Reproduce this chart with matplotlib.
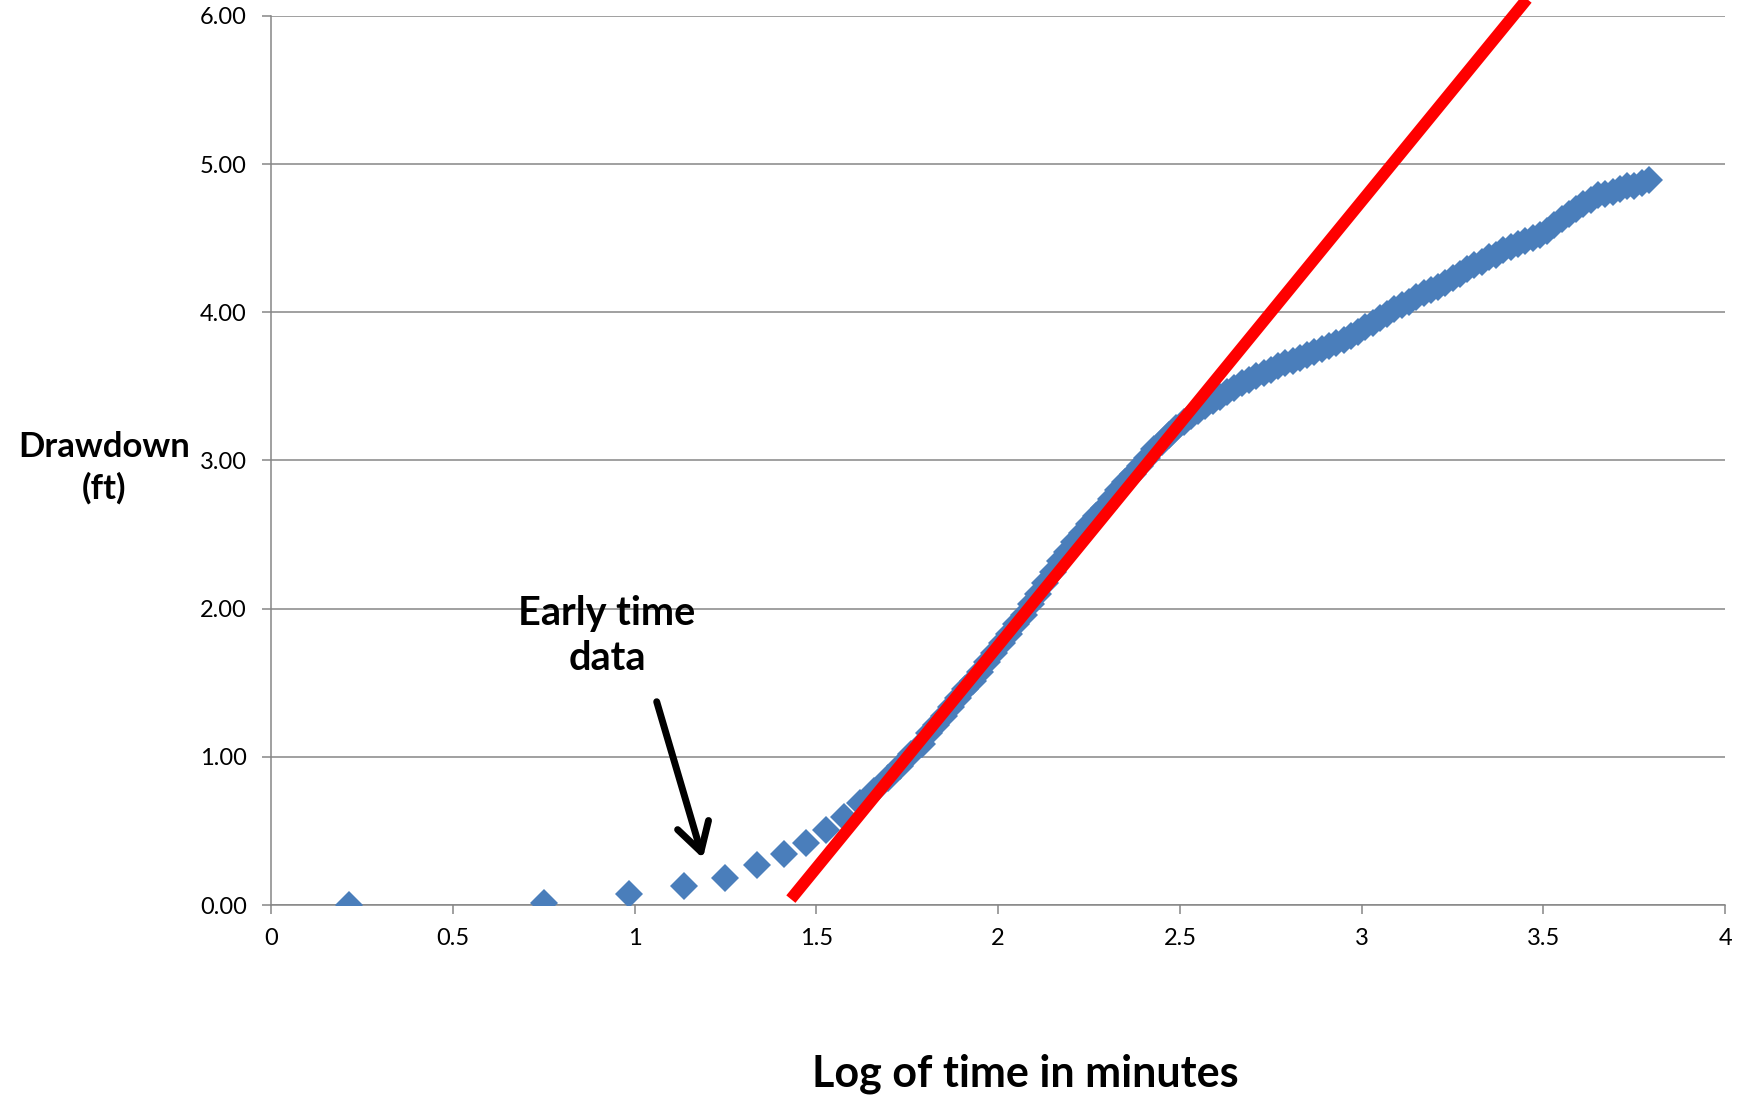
import matplotlib
matplotlib.use("Agg")
import matplotlib.pyplot as plt

plt.rcParams["font.family"] = ["Lato", "DejaVu Sans"]

# early, well separated readings (log of time, drawdown ft)
early_x = [0.215, 0.752, 0.985, 1.137, 1.248, 1.337, 1.410, 1.472, 1.527,
           1.576, 1.619, 1.659, 1.696, 1.730, 1.761, 1.790]
early_y = [0.00, 0.015, 0.075, 0.13, 0.185, 0.27, 0.345, 0.42, 0.505,
           0.595, 0.69, 0.77, 0.86, 0.94, 1.02, 1.09]

# later readings, packed so tight the markers merge into a band
late_x = [1.81, 1.83, 1.85, 1.87, 1.89, 1.91, 1.93, 1.95, 1.97, 1.99,
          2.01, 2.03, 2.05, 2.07, 2.09, 2.11, 2.13, 2.15, 2.17, 2.19,
          2.21, 2.23, 2.25, 2.27, 2.29, 2.31, 2.33, 2.35, 2.37, 2.39,
          2.41, 2.43, 2.45, 2.47, 2.49, 2.51, 2.53, 2.55, 2.57, 2.59,
          2.61, 2.63, 2.65, 2.67, 2.69, 2.71, 2.73, 2.75, 2.77, 2.79,
          2.81, 2.83, 2.85, 2.87, 2.89, 2.91, 2.93, 2.95, 2.97, 2.99,
          3.01, 3.03, 3.05, 3.07, 3.09, 3.11, 3.13, 3.15, 3.17, 3.19,
          3.21, 3.23, 3.25, 3.27, 3.29, 3.31, 3.33, 3.35, 3.37, 3.39,
          3.41, 3.43, 3.45, 3.47, 3.49, 3.51, 3.53, 3.55, 3.57, 3.59,
          3.61, 3.63, 3.65, 3.67, 3.69, 3.71, 3.73, 3.75, 3.77, 3.79]
late_y = [1.16, 1.215, 1.275, 1.335, 1.395, 1.455, 1.515, 1.575, 1.64, 1.70,
          1.765, 1.83, 1.895, 1.96, 2.03, 2.10, 2.17, 2.25, 2.32, 2.385,
          2.45, 2.51, 2.57, 2.625, 2.68, 2.74, 2.80, 2.855, 2.91, 2.965,
          3.02, 3.075, 3.125, 3.175, 3.22, 3.26, 3.30, 3.335, 3.37, 3.40,
          3.43, 3.46, 3.49, 3.52, 3.545, 3.57, 3.59, 3.61, 3.635, 3.655,
          3.67, 3.69, 3.71, 3.73, 3.75, 3.77, 3.79, 3.815, 3.84, 3.87,
          3.90, 3.93, 3.96, 3.99, 4.02, 4.05, 4.07, 4.10, 4.13, 4.15,
          4.17, 4.20, 4.23, 4.26, 4.29, 4.32, 4.34, 4.37, 4.39, 4.42,
          4.44, 4.46, 4.48, 4.50, 4.52, 4.55, 4.59, 4.63, 4.665, 4.70,
          4.73, 4.76, 4.79, 4.80, 4.81, 4.83, 4.85, 4.85, 4.875, 4.89]

# straight-line fit drawn over the middle section
fit_x = [1.43, 3.47]
fit_y = [0.04, 6.16]

x_ticks = [0, 0.5, 1, 1.5, 2, 2.5, 3, 3.5, 4]
x_tick_labels = ["0", "0.5", "1", "1.5", "2", "2.5", "3", "3.5", "4"]
y_ticks = [0, 1, 2, 3, 4, 5, 6]
y_tick_labels = ["0.00", "1.00", "2.00", "3.00", "4.00", "5.00", "6.00"]

BLUE = "#4A7EBB"
GRID = "#868686"

fig = plt.figure(figsize=(17.48, 10.99), dpi=100)
ax = fig.add_axes([0.155, 0.1765, 0.832, 0.809])

ax.plot(early_x + late_x, early_y + late_y, linestyle="none", marker="D",
        markersize=14.5, color=BLUE, markeredgewidth=0, zorder=3)
ax.plot(fit_x, fit_y, color="#FF0000", linewidth=8.5, solid_capstyle="butt",
        clip_on=False, zorder=4)

ax.set_xlim(0, 4)
ax.set_ylim(0, 6)
ax.set_xticks(x_ticks)
ax.set_xticklabels(x_tick_labels)
ax.set_yticks(y_ticks)
ax.set_yticklabels(y_tick_labels)

ax.grid(axis="y", color=GRID, linewidth=1.1)
ax.set_axisbelow(True)
for side in ["top", "right"]:
    ax.spines[side].set_visible(False)
for side in ["left", "bottom"]:
    ax.spines[side].set_color(GRID)
    ax.spines[side].set_linewidth(1.1)
ax.tick_params(axis="both", direction="out", length=6.5, width=1.1,
               color=GRID, labelsize=17, labelcolor="black")
ax.tick_params(axis="y", pad=11)
ax.tick_params(axis="x", pad=10)

ax.annotate("", xy=(1.188, 0.315), xytext=(1.061, 1.372),
            arrowprops=dict(arrowstyle="->, head_length=1.0, head_width=0.58",
                            mutation_scale=20, lw=5, color="black",
                            shrinkA=0, shrinkB=0))
ax.text(0.924, 1.815, "Early time\ndata", ha="center", va="center",
        fontsize=28.5, fontweight="bold", linespacing=1.25)

fig.text(104 / 1748, 1 - 468 / 1099, "Drawdown\n(ft)", ha="center", va="center",
         fontsize=25, fontweight="bold", linespacing=1.35)
fig.text(1025 / 1748, 1 - 1074 / 1099, "Log of time in minutes", ha="center",
         va="center", fontsize=31, fontweight="bold")

fig.savefig("out.png", dpi=100)
